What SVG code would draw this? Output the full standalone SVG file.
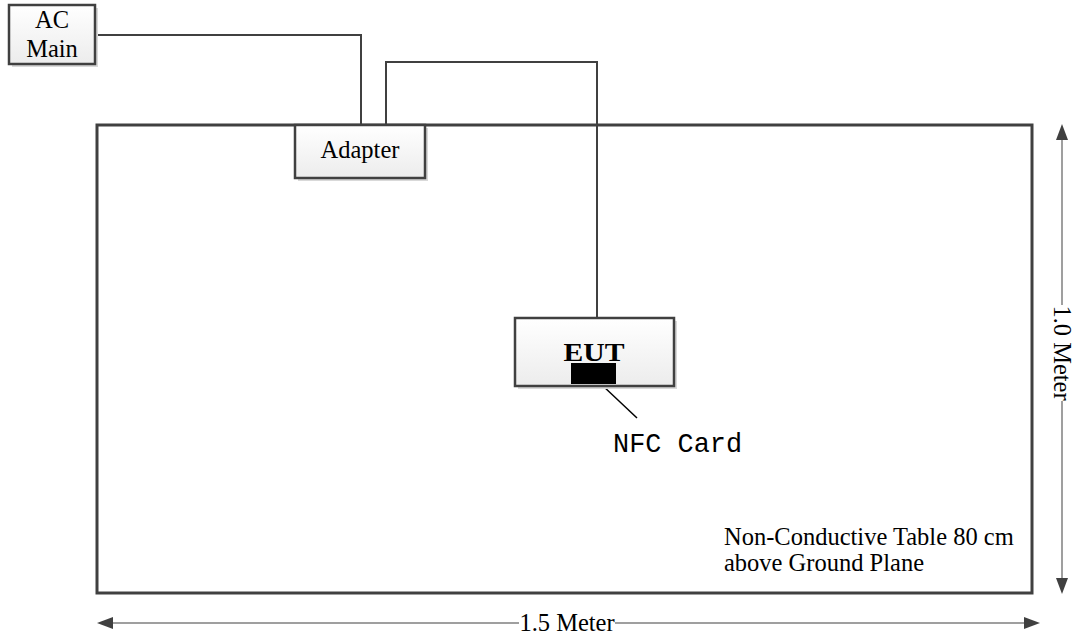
<svg xmlns="http://www.w3.org/2000/svg" width="1075" height="636" viewBox="0 0 1075 636">
<style>
.box{fill:url(#g);stroke:#404040;stroke-width:2.5}
.sh{fill:#d9d9d9}
.wire{fill:none;stroke:#404040;stroke-width:2}
.dim{fill:none;stroke:#7f7f7f;stroke-width:1.5}
.t{font-family:"Liberation Serif",serif;font-size:24.5px;fill:#000}
</style>
<defs>
<linearGradient id="g" x1="0" y1="0" x2="0" y2="1"><stop offset="0" stop-color="#ffffff"/><stop offset="1" stop-color="#ececec"/></linearGradient>
</defs>
<g id="table"><rect x="97" y="125" width="935" height="468" fill="#fff" stroke="#404040" stroke-width="3"/></g>
<g id="connectors">
<path class="wire" d="M95,35 H361 V125"/>
<path class="wire" d="M386,125 V62 H597 V318"/>
<line x1="602" y1="385" x2="637" y2="418" stroke="#000" stroke-width="1.5"/>
<line class="dim" x1="113" y1="623" x2="519" y2="623"/>
<line class="dim" x1="615" y1="623" x2="1024" y2="623"/>
<line class="dim" x1="1062" y1="140" x2="1062" y2="305"/>
<line class="dim" x1="1062" y1="401" x2="1062" y2="578"/>
<path d="M97,623 L113,617 L113,629 Z" fill="#404040"/>
<path d="M1040,623 L1024,617 L1024,629 Z" fill="#404040"/>
<path d="M1062,124 L1056,140 L1068,140 Z" fill="#404040"/>
<path d="M1062,594 L1056,578 L1068,578 Z" fill="#404040"/>
</g>
<g id="ac-main">
<rect class="sh" x="12" y="8" width="86" height="59"/>
<rect class="box" x="9" y="5" width="86" height="59"/>
<text class="t" x="52" y="28" text-anchor="middle">AC</text>
<text class="t" x="52" y="57" text-anchor="middle">Main</text>
</g>
<g id="adapter">
<rect class="sh" x="298" y="128" width="130" height="53"/>
<rect class="box" x="295" y="125" width="130" height="53"/>
<text class="t" x="360" y="158" text-anchor="middle">Adapter</text>
</g>
<g id="eut">
<rect class="sh" x="518" y="321" width="159" height="68"/>
<rect class="box" x="515" y="318" width="159" height="68"/>
<text class="t" x="594" y="361" text-anchor="middle" font-weight="bold" font-size="31" textLength="61" lengthAdjust="spacingAndGlyphs">EUT</text>
<rect x="571" y="363" width="45" height="21" fill="#000"/>
</g>
<g id="nfc-label">
<text x="613" y="452" font-family="'Liberation Mono',monospace" font-size="28" textLength="129" lengthAdjust="spacingAndGlyphs">NFC Card</text>
</g>
<g id="table-label">
<text class="t" x="724" y="545">Non-Conductive Table 80 cm</text>
<text class="t" x="724" y="571">above Ground Plane</text>
</g>
<g id="dims">
<text class="t" x="567" y="631" text-anchor="middle">1.5 Meter</text>
<text class="t" transform="translate(1054,353) rotate(90)" text-anchor="middle">1.0 Meter</text>
</g>
</svg>
